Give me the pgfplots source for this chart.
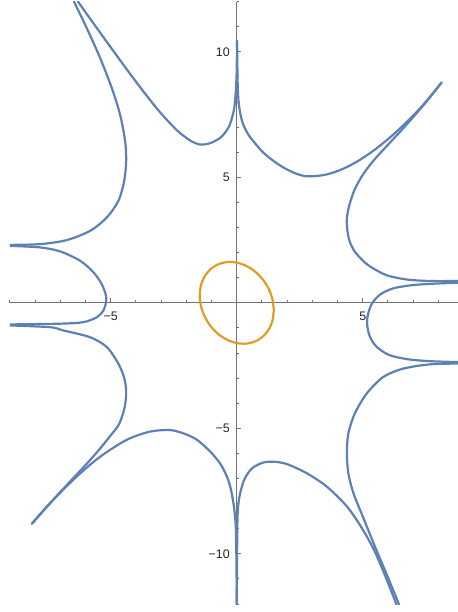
\documentclass[border=0pt]{standalone}
\usepackage{fontspec}
\setmainfont{Liberation Sans}
\usepackage{pgfplots}
\pgfplotsset{compat=1.18}
\definecolor{mmablue}{RGB}{94,129,181}
\definecolor{mmaorange}{RGB}{225,156,36}
\begin{document}
\begin{tikzpicture}
\begin{axis}[
  scale only axis,
  width=224pt, height=301.15pt,
  xmin=-9, xmax=8.78, ymin=-12, ymax=12,
  axis lines=middle,
  axis line style={-, black!55, line width=0.5pt},
  tick style={black!55, line width=0.5pt},
  tick align=inside,
  major tick length=2.2pt, minor tick length=1.3pt,
  xtick={-5,5}, xticklabels={−5,5},
  ytick={-10,-5,5,10}, yticklabels={−10,−5,5,10},
  minor xtick={-9,...,8},
  minor ytick={-12,...,12},
  tick label style={font=\fontsize{6.2}{7}\selectfont, text=black!85},
  x tick label style={yshift=-1pt},
  /pgf/number format/assume math mode=true,
  clip=true,
  every axis plot/.append style={line width=1.1pt, line cap=round, line join=round},
]
\path (rel axis cs:0,0) coordinate (SW);
\path (rel axis cs:1,1) coordinate (NE);
% top-left outer line -> upper left cusp
\addplot[mmablue, smooth] coordinates {(-6.46,12.0)(-5.95,10.94)(-5.42,9.75)(-4.96,8.56)(-4.63,7.50)(-4.43,6.44)(-4.39,5.65)(-4.47,4.85)(-4.70,4.06)(-5.16,3.40)(-5.82,2.87)(-6.75,2.50)(-7.81,2.34)(-9.0,2.31)};
% left loop
\addplot[mmablue, smooth] coordinates {(-9.0,2.27)(-7.81,2.21)(-7.01,2.05)(-6.22,1.68)(-5.69,1.22)(-5.36,0.75)(-5.19,0.29)(-5.19,0.02)(-5.29,-0.30)(-5.55,-0.57)(-6.09,-0.77)(-7.01,-0.83)(-9.0,-0.86)};
% left lower line -> lower left cusp
\addplot[mmablue, smooth] coordinates {(-9.0,-0.90)(-7.41,-0.97)(-6.88,-1.10)(-5.82,-1.37)(-5.16,-1.76)(-4.70,-2.42)(-4.45,-3.05)(-4.39,-3.65)(-4.47,-4.25)(-4.68,-4.85)(-5.02,-5.30)(-5.42,-5.80)(-5.88,-6.33)(-6.41,-6.90)(-6.94,-7.47)(-7.54,-8.12)(-8.13,-8.80)};
% lower left cusp -> bottom spike
\addplot[mmablue, smooth] coordinates {(-8.13,-8.80)(-7.28,-7.85)(-6.35,-6.92)(-5.42,-6.13)(-4.37,-5.46)(-3.44,-5.13)(-2.65,-5.07)(-2.12,-5.20)(-1.59,-5.45)(-1.06,-5.92)(-0.66,-6.40)(-0.40,-6.90)(-0.24,-7.40)(-0.13,-8.0)(-0.06,-8.6)(-0.03,-9.2)(-0.01,-10.5)(0.0,-12.0)};
% bottom spike -> lower right
\addplot[mmablue, smooth] coordinates {(0.0,-12.0)(0.01,-10.5)(0.03,-8.56)(0.10,-7.76)(0.27,-7.11)(0.45,-6.78)(0.66,-6.55)(1.06,-6.36)(1.45,-6.33)(1.98,-6.42)(2.78,-6.79)(3.57,-7.32)(4.37,-8.11)(4.95,-8.95)(5.45,-9.85)(5.90,-10.90)(6.31,-11.94)(6.33,-12.0)};
% lower right line -> lower right cusp
\addplot[mmablue, smooth] coordinates {(6.43,-12.0)(6.41,-11.94)(5.98,-10.89)(5.48,-9.70)(5.0,-8.51)(4.63,-7.58)(4.43,-6.79)(4.37,-5.99)(4.43,-5.20)(4.69,-4.40)(5.16,-3.61)(5.82,-2.95)(6.61,-2.62)(7.67,-2.45)(8.78,-2.42)};
% right loop
\addplot[mmablue, smooth] coordinates {(8.78,0.80)(7.94,0.77)(7.01,0.71)(6.22,0.58)(5.69,0.33)(5.36,-0.04)(5.20,-0.50)(5.18,-0.90)(5.29,-1.36)(5.56,-1.76)(6.08,-2.09)(6.88,-2.26)(7.80,-2.33)(8.78,-2.36)};
% upper right cusp -> right upper line
\addplot[mmablue, smooth] coordinates {(8.13,8.78)(7.54,8.03)(6.94,7.33)(6.41,6.74)(5.88,6.17)(5.42,5.66)(5.02,5.13)(4.69,4.54)(4.47,3.90)(4.37,3.35)(4.40,2.80)(4.50,2.40)(4.68,2.05)(4.95,1.74)(5.29,1.45)(5.95,1.10)(6.75,0.93)(7.67,0.87)(8.78,0.87)};
% top spike -> upper right cusp
\addplot[mmablue, smooth] coordinates {(0.01,10.44)(0.025,9.35)(0.04,8.6)(0.07,8.03)(0.15,7.50)(0.26,7.10)(0.45,6.72)(0.66,6.44)(1.06,5.98)(1.59,5.56)(2.12,5.25)(2.71,5.05)(3.44,5.09)(4.10,5.29)(4.76,5.62)(5.42,6.06)(6.08,6.59)(6.75,7.21)(7.40,7.89)(8.13,8.78)};
% top-left inner line -> top spike
\addplot[mmablue, smooth] coordinates {(-6.30,12.0)(-5.69,11.14)(-5.03,10.22)(-4.37,9.31)(-3.71,8.43)(-3.05,7.60)(-2.38,6.88)(-1.85,6.47)(-1.46,6.31)(-1.06,6.36)(-0.66,6.57)(-0.45,6.80)(-0.27,7.11)(-0.10,7.76)(-0.03,8.56)(0.0,9.35)(0.01,10.44)};
% ellipse
\addplot[mmaorange, smooth] coordinates {(1.470,-0.293)(1.420,0.132)(1.273,0.548)(1.039,0.926)(0.735,1.241)(0.380,1.472)(0,1.603)(-0.380,1.624)(-0.735,1.535)(-1.039,1.340)(-1.273,1.056)(-1.420,0.698)(-1.470,0.293)(-1.420,-0.132)(-1.273,-0.548)(-1.039,-0.926)(-0.735,-1.241)(-0.380,-1.472)(0,-1.603)(0.380,-1.624)(0.735,-1.535)(1.039,-1.340)(1.273,-1.056)(1.420,-0.698)(1.470,-0.293)};
\end{axis}
\pgfresetboundingbox
\path[use as bounding box] ([xshift=-5pt,yshift=-4pt]SW) rectangle ([yshift=0.85pt]NE);
\end{tikzpicture}
\end{document}
